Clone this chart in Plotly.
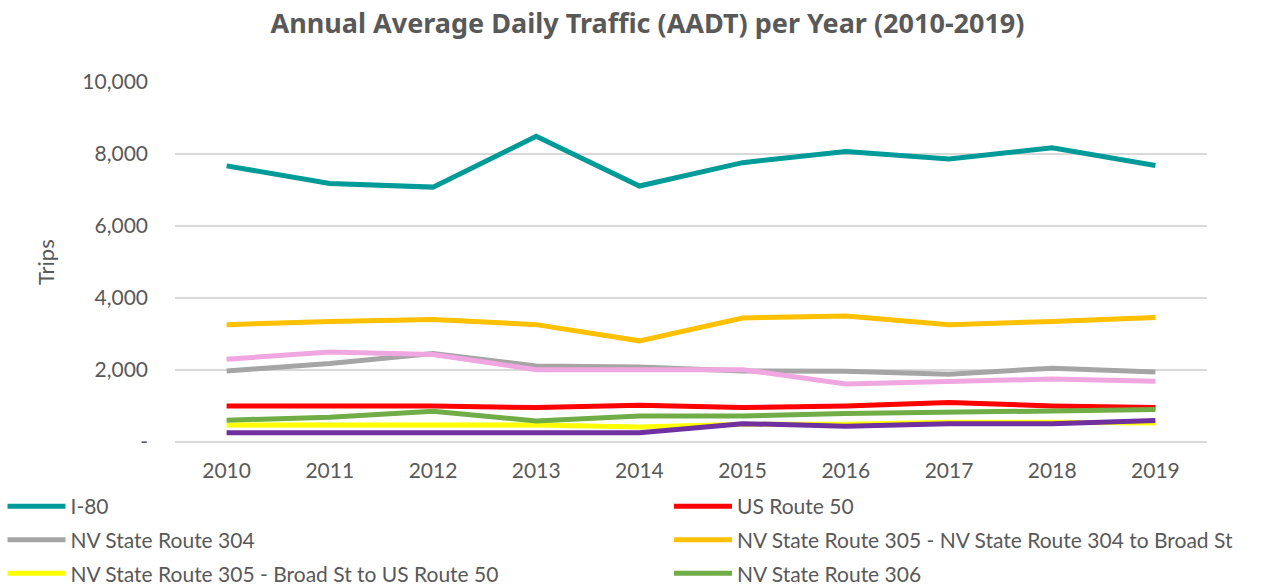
import plotly.graph_objects as go

# Annual Average Daily Traffic by count location, 2010-2019
years = ["2010", "2011", "2012", "2013", "2014", "2015", "2016", "2017", "2018", "2019"]

i80 = [7670, 7180, 7080, 8490, 7110, 7760, 8070, 7860, 8170, 7680]
us50 = [1000, 1000, 1000, 955, 1020, 955, 1000, 1095, 1000, 955]
sr304 = [1975, 2180, 2460, 2110, 2085, 1975, 1965, 1880, 2050, 1945]
sr305_north = [3260, 3350, 3400, 3260, 2810, 3445, 3500, 3260, 3350, 3455]
sr305_south = [470, 470, 470, 470, 420, 490, 490, 550, 550, 530]
sr306 = [605, 690, 855, 585, 720, 725, 790, 835, 860, 900]
sr722 = [2300, 2500, 2430, 2010, 2010, 2010, 1610, 1690, 1750, 1690]
sr376 = [260, 260, 260, 260, 260, 510, 440, 510, 510, 600]

series_names = [
    "I-80",
    "US Route 50",
    "NV State Route 304",
    "NV State Route 305 - NV State Route 304 to Broad St",
    "NV State Route 305 - Broad St to US Route 50",
    "NV State Route 306",
    "NV State Route 722",
    "NV State Route 376",
]
series_values = [i80, us50, sr304, sr305_north, sr305_south, sr306, sr722, sr376]
series_colors = ["#009B98", "#FF0000", "#A5A5A5", "#FFC000", "#FFFF00", "#70AD47", "#F0A6E0", "#7030A0"]

y_tick_values = [0, 2000, 4000, 6000, 8000, 10000]
y_tick_labels = ["-", "2,000", "4,000", "6,000", "8,000", "10,000"]

FONT = "Lato"
TEXT = "#595959"
GRID = "#D9D9D9"
W, H = 1264, 587
ML, MR, MT, MB = 175, 57, 82, 145

fig = go.Figure()
for i, (name, vals, color) in enumerate(zip(series_names, series_values, series_colors)):
    # legend entries alternate between a left and a right column
    fig.add_trace(go.Scatter(
        x=years, y=vals, name=name, mode="lines",
        line=dict(color=color, width=5),
        legend="legend" if i % 2 == 0 else "legend2",
        legendgroup=f"g{i}",
    ))

legend_style = dict(
    orientation="v",
    xref="container", yref="container",
    xanchor="left", yanchor="top",
    y=1 - 486 / H,
    itemwidth=58,
    traceorder="grouped",
    tracegroupgap=3.3,
    font=dict(family=FONT, size=21, color=TEXT),
    bgcolor="rgba(0,0,0,0)",
)

fig.update_layout(
    width=W, height=H,
    margin=dict(l=ML, r=MR, t=MT, b=MB, autoexpand=False),
    paper_bgcolor="white", plot_bgcolor="white",
    font=dict(family=FONT, color=TEXT, size=21),
    title=dict(
        text="<b>Annual Average Daily Traffic (AADT) per Year (2010-2019)</b>",
        x=647.5 / W, xref="container", xanchor="center",
        y=1 - 24 / H, yref="container", yanchor="middle",
        font=dict(family="Noto Sans", size=27, color=TEXT),
    ),
    showlegend=True,
    legend=dict(legend_style, x=2.5 / W),
    legend2=dict(legend_style, x=669 / W),
    annotations=[dict(
        text="Trips", textangle=-90, showarrow=False,
        xref="paper", yref="paper",
        x=(45 - ML) / (W - ML - MR), y=0.5,
        xanchor="center", yanchor="middle",
        font=dict(family=FONT, size=22, color=TEXT),
    )],
)

fig.update_xaxes(
    type="category", range=[-0.5, 9.5],
    showgrid=False, showline=False, zeroline=False,
    ticks="", ticklabelstandoff=14,
    tickfont=dict(family=FONT, size=21, color=TEXT),
)
fig.update_yaxes(
    range=[0, 10000],
    tickvals=y_tick_values, ticktext=y_tick_labels,
    showgrid=True, gridcolor=GRID, gridwidth=1.5,
    zeroline=True, zerolinecolor=GRID, zerolinewidth=1.5,
    showline=False, ticks="", ticklabelstandoff=26,
    tickfont=dict(family=FONT, size=21, color=TEXT),
)

fig.write_html("out.html")
